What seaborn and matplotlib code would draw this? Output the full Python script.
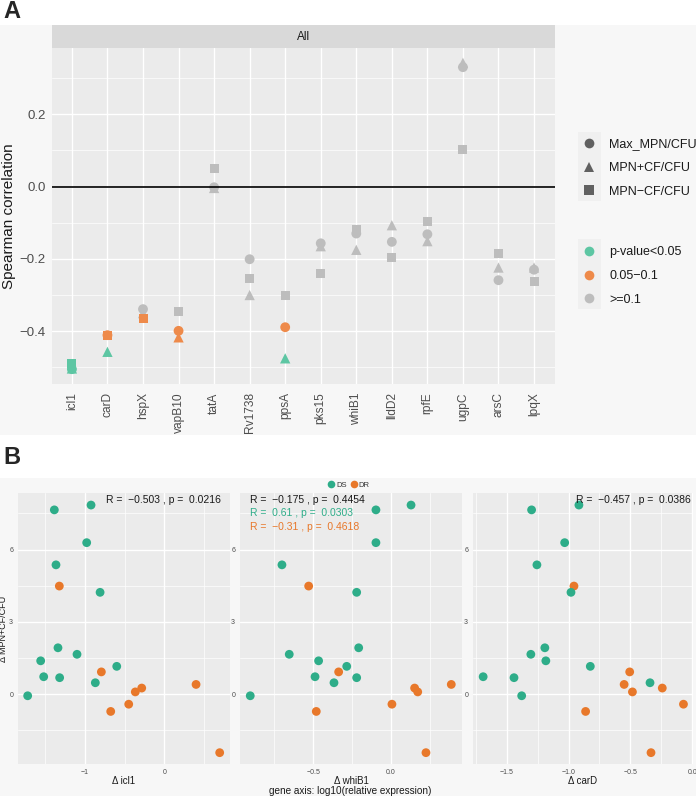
"""
Figure A/B : corrélations de Spearman par gène + nuages de points par facette
"""
import pandas as pd
import matplotlib
matplotlib.use("Agg")
import matplotlib.pyplot as plt
from matplotlib.lines import Line2D
from matplotlib.patches import Rectangle
import seaborn as sns

# ============================================================
# DONNÉES
# ============================================================

genes = ["icl1", "carD", "hspX", "vapB10", "tatA", "Rv1738", "ppsA",
         "pks15", "whiB1", "lldD2", "rpfE", "ugpC", "arsC", "lpqX"]

rho_max_mpn = [-0.505, -0.411, -0.339, -0.399, -0.002, -0.201, -0.389,
               -0.157, -0.130, -0.153, -0.132, 0.330, -0.259, -0.230]
rho_mpn_cf = [-0.503, -0.457, -0.350, -0.417, -0.004, -0.300, -0.475,
              -0.165, -0.175, -0.107, -0.151, 0.342, -0.224, -0.224]
rho_mpn_nocf = [-0.489, -0.411, -0.365, -0.346, 0.049, -0.254, -0.300,
                -0.241, -0.119, -0.196, -0.096, 0.102, -0.186, -0.263]

sig_max_mpn = ["p-value<0.05", "0.05-0.1", ">=0.1", "0.05-0.1", ">=0.1", ">=0.1", "0.05-0.1",
               ">=0.1", ">=0.1", ">=0.1", ">=0.1", ">=0.1", ">=0.1", ">=0.1"]
sig_mpn_cf = ["p-value<0.05", "p-value<0.05", ">=0.1", "0.05-0.1", ">=0.1", ">=0.1", "p-value<0.05",
              ">=0.1", ">=0.1", ">=0.1", ">=0.1", ">=0.1", ">=0.1", ">=0.1"]
sig_mpn_nocf = ["p-value<0.05", "0.05-0.1", "0.05-0.1", ">=0.1", ">=0.1", ">=0.1", ">=0.1",
                ">=0.1", ">=0.1", ">=0.1", ">=0.1", ">=0.1", ">=0.1", ">=0.1"]

measures = ["Max_MPN/CFU", "MPN+CF/CFU", "MPN\u2212CF/CFU"]
sig_levels = ["p-value<0.05", "0.05\u22120.1", ">=0.1"]

# Panel B : un point par patient
groupe = ["DS", "DS", "DS", "DS", "DR", "DS", "DS", "DS", "DS", "DS", "DS",
          "DS", "DS", "DS", "DR", "DR", "DR", "DR", "DR", "DR", "DR"]
delta_mpn_cf = [7.65, 7.85, 6.29, 5.37, 4.49, 4.23, 1.93, 1.39, 1.66, 0.73, 0.69,
                -0.06, 0.48, 1.16, 0.93, 0.26, 0.10, -0.41, -0.71, 0.41, -2.42]
delta_icl1 = [-1.387, -0.924, -0.979, -1.366, -1.324, -0.810, -1.341, -1.559, -1.101, -1.521, -1.320,
              -1.723, -0.870, -0.600, -0.794, -0.285, -0.366, -0.449, -0.676, 0.400, 0.698]
delta_whib1 = [-0.097, 0.129, -0.097, -0.702, -0.530, -0.221, -0.208, -0.466, -0.655, -0.489, -0.221,
               -0.906, -0.367, -0.285, -0.337, 0.152, 0.172, 0.006, -0.481, 0.388, 0.225]
delta_card = [-1.298, -0.916, -1.031, -1.255, -0.956, -0.980, -1.191, -1.183, -1.304, -1.689, -1.440,
              -1.378, -0.342, -0.824, -0.506, -0.243, -0.484, -0.072, -0.862, -0.551, -0.334]

# ============================================================
# STYLE
# ============================================================

W, H = 696, 796
GRIS_PANEL = "#EBEBEB"
VERT_A, ORANGE_A, GRIS_A = "#5DC6A3", "#EE8A4A", "#BDBDBD"
VERT_B, ORANGE_B = "#2EAD89", "#E8782A"

sns.set_style("white")
plt.rcParams["font.family"] = ["Liberation Sans", "DejaVu Sans"]


def px_axes(fig, x0, y0, x1, y1, **kw):
    """Axes placé en pixels (origine en haut à gauche)."""
    return fig.add_axes([x0 / W, 1 - y1 / H, (x1 - x0) / W, (y1 - y0) / H], **kw)


def fond(fig, x0, y0, x1, y1, couleur):
    fig.add_artist(Rectangle((x0 / W, 1 - y1 / H), (x1 - x0) / W, (y1 - y0) / H,
                             transform=fig.transFigure, color=couleur, zorder=-10, lw=0))


def style_ggplot(ax, label_size=9, tick_len=3):
    ax.set_facecolor(GRIS_PANEL)
    for s in ax.spines.values():
        s.set_visible(False)
    ax.set_axisbelow(True)
    ax.grid(which="major", color="white", lw=1.0)
    ax.grid(which="minor", color="white", lw=0.5)
    ax.tick_params(which="major", length=tick_len, width=0.8, color="#333333",
                   labelcolor="#4D4D4D", labelsize=label_size, pad=1.5)
    ax.tick_params(which="minor", length=0)


fig = plt.figure(figsize=(W / 100, H / 100), dpi=100)
fig.patch.set_facecolor("white")

# ============================================================
# PANEL A
# ============================================================

fond(fig, 0, 25, W, 435, "#F7F7F7")
fig.text(3 / W, 1 - 11 / H, "A", fontsize=17, fontweight="bold", va="center", ha="left")

strip = px_axes(fig, 52, 25, 555, 48)
strip.set_facecolor("#D9D9D9")
strip.set_xticks([])
strip.set_yticks([])
for s in strip.spines.values():
    s.set_visible(False)
strip.text(0.5, 0.5, "All", ha="center", va="center", fontsize=8.5, color="#1A1A1A",
           transform=strip.transAxes)

ax_a = px_axes(fig, 52, 48, 555, 384)
style_ggplot(ax_a, label_size=9.5)

df_a = pd.DataFrame({
    "gene": genes * 3,
    "rho": rho_max_mpn + rho_mpn_cf + rho_mpn_nocf,
    "mesure": [measures[0]] * 14 + [measures[1]] * 14 + [measures[2]] * 14,
    "sig": sig_max_mpn + sig_mpn_cf + sig_mpn_nocf,
})
df_a["sig"] = df_a["sig"].str.replace("0.05-0.1", "0.05\u22120.1")
palette_a = {sig_levels[0]: VERT_A, sig_levels[1]: ORANGE_A, sig_levels[2]: GRIS_A}
markers_a = {measures[0]: "o", measures[1]: "^", measures[2]: "s"}
sizes_a = {measures[0]: 50, measures[1]: 55, measures[2]: 42}

for m in measures:
    sous = df_a[df_a["mesure"] == m]
    sns.scatterplot(data=sous, x="gene", y="rho", hue="sig", palette=palette_a,
                    marker=markers_a[m], s=sizes_a[m], linewidth=0, legend=False, ax=ax_a)

ax_a.axhline(0, color="black", lw=1.2, zorder=3)
ax_a.set_xlim(-0.56, len(genes) - 1 + 0.59)
ax_a.set_ylim(-0.546, 0.383)
ax_a.set_yticks([-0.4, -0.2, 0.0, 0.2])
ax_a.set_yticks([-0.5, -0.3, -0.1, 0.1, 0.3], minor=True)
ax_a.set_yticklabels(["\u22120.4", "\u22120.2", "0.0", "0.2"])
ax_a.set_xticks(range(len(genes)))
ax_a.set_xticklabels(genes, rotation=90, fontsize=8.6)
ax_a.tick_params(axis="x", pad=3)
ax_a.set_xlabel("")
ax_a.set_ylabel("Spearman correlation", fontsize=11, color="#1A1A1A", labelpad=2.5)

# Légendes
fond(fig, 578, 132, 601, 201, "#F0F0F0")
fond(fig, 578, 239, 601, 309, "#F0F0F0")
leg_kw = dict(loc="upper left", frameon=False, fontsize=9, labelspacing=0.95,
              handlelength=1.0, handletextpad=1.12, borderpad=0, borderaxespad=0)
h_forme = [Line2D([], [], marker=markers_a[m], ls="", color="#606060", markersize=7,
                  markeredgewidth=0) for m in measures]
leg1 = fig.legend(h_forme, measures, bbox_to_anchor=(583 / W, 1 - 138 / H), **leg_kw)
h_couleur = [Line2D([], [], marker="o", ls="", color=palette_a[s], markersize=7,
                    markeredgewidth=0) for s in sig_levels]
leg2 = fig.legend(h_couleur, sig_levels, bbox_to_anchor=(583 / W, 1 - 246 / H), **leg_kw)
for leg in (leg1, leg2):
    for t in leg.get_texts():
        t.set_color("#1A1A1A")

# ============================================================
# PANEL B
# ============================================================

fond(fig, 0, 478, W, H, "#F7F7F7")
fig.text(3 / W, 1 - 458 / H, "B", fontsize=17, fontweight="bold", va="center", ha="left")

df_b = pd.DataFrame({"groupe": groupe, "y": delta_mpn_cf, "icl1": delta_icl1,
                     "whiB1": delta_whib1, "carD": delta_card})
palette_b = {"DS": VERT_B, "DR": ORANGE_B}

facettes = [
    ("icl1", (18, 230), (-1.845, 0.828), [-1, 0], ["\u22121", "0"], [-1.5, -0.5, 0.5]),
    ("whiB1", (240, 462), (-0.972, 0.457), [-0.5, 0.0], ["\u22120.5", "0.0"], [-0.75, -0.25, 0.25]),
    ("carD", (473, 693), (-1.771, 0.005), [-1.5, -1.0, -0.5, 0.0],
     ["\u22121.5", "\u22121.0", "\u22120.5", "0.0"], [-1.75, -1.25, -0.75, -0.25]),
]

axes_b = []
for gene, (x0, x1), xlim, xt, xtl, xminor in facettes:
    ax = px_axes(fig, x0, 493, x1, 764)
    style_ggplot(ax, label_size=5, tick_len=2)
    sns.scatterplot(data=df_b, x=gene, y="y", hue="groupe", palette=palette_b,
                    s=40, linewidth=0, legend=False, ax=ax)
    ax.set_xlim(*xlim)
    ax.set_ylim(-2.89, 8.35)
    ax.set_xticks(xt)
    ax.set_xticklabels(xtl)
    ax.set_xticks(xminor, minor=True)
    ax.set_yticks([0, 3, 6])
    ax.set_yticks([-1.5, 1.5, 4.5, 7.5], minor=True)
    ax.set_xlabel("\u0394 " + gene, fontsize=7, color="#1A1A1A", labelpad=0)
    ax.set_ylabel("")
    axes_b.append(ax)

axes_b[0].set_ylabel("\u0394 MPN+CF/CFU", fontsize=6.5, color="#1A1A1A", labelpad=0.5)

txt_kw = dict(fontsize=7.5, va="center")
axes_b[0].text(0.955, 0.975, "R =  \u22120.503 , p =  0.0216", ha="right", color="#1A1A1A",
               transform=axes_b[0].transAxes, **txt_kw)
axes_b[1].text(0.045, 0.975, "R =  \u22120.175 , p =  0.4454", ha="left", color="#1A1A1A",
               transform=axes_b[1].transAxes, **txt_kw)
axes_b[1].text(0.045, 0.925, "R =  0.61 , p =  0.0303", ha="left", color=VERT_B,
               transform=axes_b[1].transAxes, **txt_kw)
axes_b[1].text(0.045, 0.875, "R =  \u22120.31 , p =  0.4618", ha="left", color=ORANGE_B,
               transform=axes_b[1].transAxes, **txt_kw)
axes_b[2].text(0.99, 0.975, "R =  \u22120.457 , p =  0.0386", ha="right", color="#1A1A1A",
               transform=axes_b[2].transAxes, **txt_kw)

h_grp = [Line2D([], [], marker="o", ls="", color=palette_b[g], markersize=5.5,
                markeredgewidth=0) for g in ["DS", "DR"]]
leg_b = fig.legend(h_grp, ["DS", "DR"], loc="center", bbox_to_anchor=(349 / W, 1 - 485 / H),
                   ncol=2, frameon=False, fontsize=5.5, handlelength=0.8, handletextpad=0.2,
                   columnspacing=0.6, borderpad=0, borderaxespad=0)
for t in leg_b.get_texts():
    t.set_color("#333333")

fig.text(350 / W, 1 - 791 / H, "gene axis: log10(relative expression)", fontsize=7.2,
         ha="center", va="center", color="#1A1A1A")

fig.savefig("out.png", dpi=100, facecolor="white")
